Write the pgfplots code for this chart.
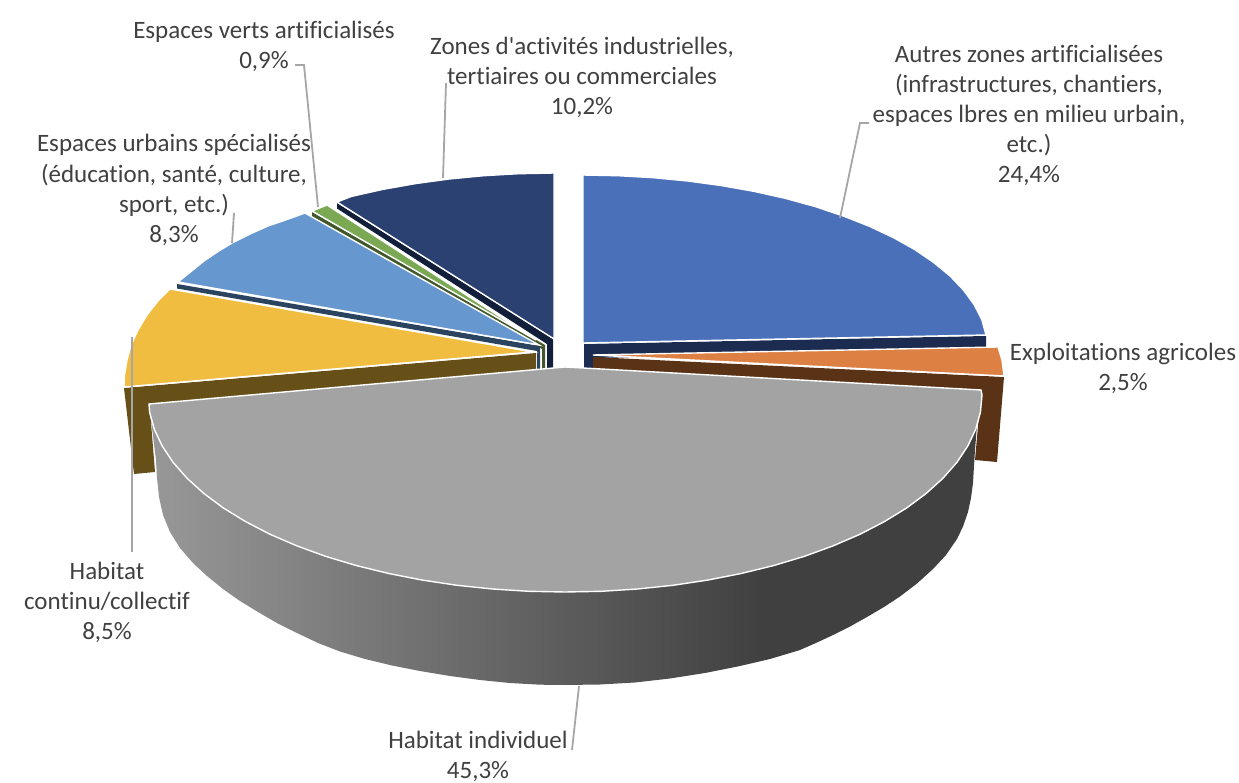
\documentclass[border=0pt]{standalone}
\usepackage{pgfplots}
\pgfplotsset{compat=1.18}
\usepackage{fontspec}
\setmainfont{Carlito}[Ligatures={TeXOff,NoCommon}]
\definecolor{lab}{HTML}{404040}
\definecolor{lead}{HTML}{A6A6A6}
\definecolor{cBlue}{HTML}{4A70BA}
\definecolor{sBlue}{HTML}{1C2B50}
\definecolor{cOrange}{HTML}{DD8044}
\definecolor{sOrange}{HTML}{5A3216}
\definecolor{cGrey}{HTML}{A3A3A3}
\definecolor{cYellow}{HTML}{F1BD40}
\definecolor{sYellow}{HTML}{665018}
\definecolor{cLight}{HTML}{6698CF}
\definecolor{sLight}{HTML}{2A4460}
\definecolor{cGreen}{HTML}{7AA853}
\definecolor{sGreen}{HTML}{41592A}
\definecolor{cNavy}{HTML}{2B4172}
\definecolor{sNavy}{HTML}{111F3A}
\definecolor{w1}{HTML}{989898}
\definecolor{w2}{HTML}{5C5C5C}
\definecolor{w3}{HTML}{404040}
\pgfdeclarehorizontalshading{wall}{100bp}{color(0bp)=(w1);color(25bp)=(w1);color(50bp)=(w2);color(62bp)=(w3);color(100bp)=(w3)}
\tikzset{top/.style={draw=white,line width=1.4pt,line join=miter},side/.style={draw=none},
 ll/.style={draw=lead,line width=1.8pt,line join=miter},
 lb/.style={font=\fontsize{25}{30.1}\selectfont,text=lab,align=center,inner sep=0pt}}
\begin{document}
\begin{tikzpicture}
\useasboundingbox (0,0) rectangle (1239pt,783pt);
\begin{axis}[at={(0,0)},anchor=south west,scale only axis,width=1239pt,height=783pt,
 xmin=0,xmax=1239,ymin=0,ymax=783,y dir=reverse,axis lines=none,clip=false,no markers]
% Zones d'activites (navy)
\addplot[side,fill=sNavy] coordinates {(337,203)(553,339)(553,369)(547,369)(547,344)(337,208.5)} --cycle;
\addplot[top,fill=cNavy] coordinates {(554,339)(337,202)(351.5,196.4)(382.8,189.4)(415.5,183.6)(449.2,179)(483.7,175.7)(518.7,173.7)(554,173)} --cycle;
% Espaces verts (green)
\addplot[side,fill=sGreen] coordinates {(312,212)(545,345)(545,369)(542,369)(542,349)(312,216.5)} --cycle;
\addplot[top,fill=cGreen] coordinates {(536,340)(312,211)(327,205)} --cycle;
% Espaces urbains (light blue)
\addplot[side,fill=sLight] coordinates {(177,284)(540,346)(540,369)(537,369)(537,351)(177,288.5)} --cycle;
\addplot[top,fill=cLight] coordinates {(539,345)(178,282)(191,271.5)(204,261)(218,251.5)(232,243)(250,234)(268,226)(287,219.5)(305,213)} --cycle;
% Habitat continu (yellow)
\addplot[side,fill=sYellow] coordinates {(124,388)(536,353)(536,372)(150,410)(155,472)(134,474)} --cycle;
\addplot[top,fill=cYellow] coordinates {(533,352)(124,387)(124.5,375)(127,360)(131,345)(138,330)(147,315)(158,301)(170,289)} --cycle;
% Autres zones (blue)
\addplot[side,fill=sBlue] coordinates {(584,344)(986,336)(986,350)(593,358)(593,369)(584,369)} --cycle;
\addplot[top,fill=cBlue] coordinates {(583,343)(583,175)(618.3,175.7)(653.3,177.7)(687.8,181)(721.5,185.6)(754.2,191.4)(785.5,198.4)(815.3,206.6)(843.3,216)(869.4,226.3)(893.2,237.5)(914.8,249.6)(933.7,262.5)(950.1,276)(963.6,290.2)(974.2,304.7)(981.8,319.6)(986,335)} --cycle;
% Exploitations (orange)
\addplot[side,fill=sOrange] coordinates {(593,357)(1004,377)(997,462)(975,460)(981,392)(593,369)} --cycle;
\addplot[top,fill=cOrange] coordinates {(593,355)(998,347)(1002,360)(1004,376)} --cycle;
% Habitat individuel (grey): wall, then top
\addplot[draw=none,shading=wall] coordinates {(982,395)(977,425)(975,450)(974,466)(973,483)(971,498)(968,512)(963,526.5)(957,539)(946,555)(933,569)(917,583.5)(900,596.5)(884,607)(867,617)(850,626.5)(833,635)(817,642.5)(800,650)(770,659)(740,666)(705,673)(670,678.5)(635,682.5)(600,684.5)(565,685)(540,684.7)(510,683)(480,680)(450,676)(420,671)(392,665.5)(365,659)(340,651.5)(318,643)(297,633)(277,623)(258,612)(240,601)(223,589)(207,576)(193,563)(180,548)(170,532)(163,515)(159,497)(157,478)(156,460)(149,404)} --cycle;
\addplot[top,fill=cGrey] coordinates {(565,367)(981,390)(982,395)(980.4,412.2)(975.7,429.2)(967.8,446)(956.9,462.4)(942.9,478.3)(926.1,493.5)(906.6,508)(884.4,521.6)(859.9,534.3)(833,545.9)(804.2,556.4)(773.5,565.6)(741.2,573.5)(707.6,580.1)(672.9,585.3)(637.4,589)(601.3,591.3)(565,592)(528.7,591.3)(492.6,589)(457.1,585.3)(422.4,580.1)(388.8,573.5)(356.5,565.6)(325.8,556.4)(297,545.9)(270.1,534.3)(245.6,521.6)(223.4,508)(203.9,493.5)(187.1,478.3)(173.1,462.4)(162.2,446)(154.3,429.2)(149.6,412.2)(149,404)} --cycle;
% leader lines
\addplot[ll] coordinates {(840,218)(860,123)(869,123)};
\addplot[ll] coordinates {(295,65)(304,65)(318,207)};
\addplot[ll] coordinates {(446,83)(443,178)};
\addplot[ll] coordinates {(234,213)(232,243)};
\addplot[ll] coordinates {(132,337)(132,552)};
\addplot[ll] coordinates {(579,686)(572,750)};
% labels
\node[lb] at (axis cs:264,46) {Espaces verts artificialisés\\0,9\%};
\node[lb] at (axis cs:582,77.5) {Zones d'activités industrielles,\\tertiaires ou commerciales\\10,2\%};
\node[lb] at (axis cs:1029,115.5) {Autres zones artificialisées\\(infrastructures, chantiers,\\espaces lbres en milieu urbain,\\etc.)\\24,4\%};
\node[lb] at (axis cs:1123,368) {Exploitations agricoles\\2,5\%};
\node[lb] at (axis cs:174,190) {Espaces urbains spécialisés\\(éducation, santé, culture,\\sport, etc.)\\8,3\%};
\node[lb] at (axis cs:107,602.5) {Habitat\\continu/collectif\\8,5\%};
\node[lb] at (axis cs:478,756.5) {Habitat individuel\\45,3\%};
\end{axis}
\end{tikzpicture}
\end{document}
